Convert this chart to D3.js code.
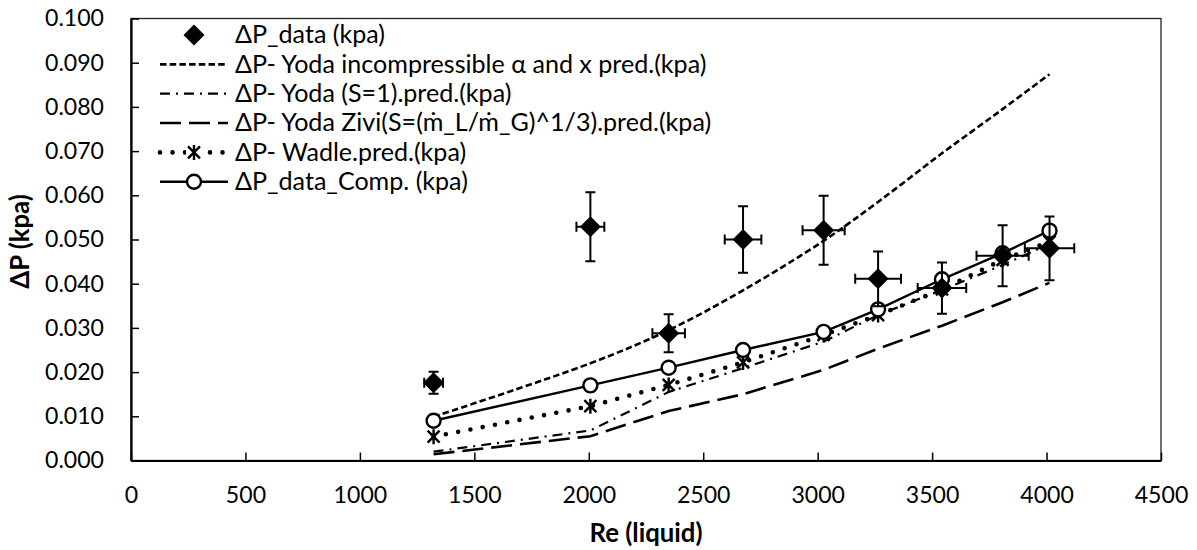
<!DOCTYPE html>
<html><head><meta charset="utf-8">
<script src="https://cdn.jsdelivr.net/npm/d3@7"></script>
<style>
body{margin:0;background:#fff}
text{font-family:Lato,'Open Sans',sans-serif;fill:#000}
</style>
</head><body>
<svg id="chart" width="1197" height="550"></svg>
<script>
// ---------- data ----------
const re          = [1322, 2007, 2349, 2674, 3026, 3264, 3543, 3808, 4013];
const dpData      = [0.0176, 0.0529, 0.0288, 0.0500, 0.0521, 0.0411, 0.0390, 0.0463, 0.0480];
const dpErr       = [0.0025, 0.0078, 0.0043, 0.0075, 0.0078, 0.0062, 0.0058, 0.0069, 0.0072];
const reErr       = [41, 61, 71, 80, 92, 100, 106, 114, 108];
const yodaIncomp  = [0.0099, 0.0220, 0.0295, 0.0385, 0.0497, 0.0585, 0.0695, 0.0795, 0.0874];
const yodaS1      = [0.0020, 0.0068, 0.0155, 0.0209, 0.0269, 0.0329, 0.0386, 0.0442, 0.0490];
const yodaZivi    = [0.0014, 0.0055, 0.0112, 0.0150, 0.0205, 0.0253, 0.0305, 0.0358, 0.0402];
const wadle       = [0.0054, 0.0123, 0.0171, 0.0222, 0.0284, 0.0329, 0.0387, 0.0454, 0.0495];
const dataComp    = [0.0090, 0.0170, 0.0210, 0.0250, 0.0291, 0.0342, 0.0410, 0.0469, 0.0520];
const xTicks      = [0, 500, 1000, 1500, 2000, 2500, 3000, 3500, 4000, 4500];
const yTicks      = [0, 0.01, 0.02, 0.03, 0.04, 0.05, 0.06, 0.07, 0.08, 0.09, 0.1];
const legendLabels = [
  "ΔP_data (kpa)",
  "ΔP- Yoda incompressible α and x pred.(kpa)",
  "ΔP- Yoda (S=1).pred.(kpa)",
  "ΔP- Yoda Zivi(S=(ṁ_L/ṁ_G)^1/3).pred.(kpa)",
  "ΔP- Wadle.pred.(kpa)",
  "ΔP_data_Comp. (kpa)"
];
const xTitle = "Re (liquid)";
const yTitle = "ΔP (kpa)";

// ---------- layout ----------
const svg = d3.select("#chart");
const L = 131, R = 1161, T = 18.5, B = 460.5;
const x = d3.scaleLinear().domain([0, 4500]).range([L, R]);
const y = d3.scaleLinear().domain([0, 0.1]).range([B, T]);

function fitSize(txt, target, weight) {
  const t = svg.append("text").attr("font-size", 100).attr("font-weight", weight || "normal").text(txt);
  const w = t.node().getComputedTextLength();
  t.remove();
  return 100 * target / w;
}
const tickFs = fitSize("0.100", 59);
const legFs = fitSize("ΔP_data_Comp. (kpa)", 233);
const titleFs = fitSize("Re (liquid)", 113, "bold");

// plot border (top/right)
svg.append("rect").attr("x", L).attr("y", T).attr("width", R - L).attr("height", B - T)
  .attr("fill", "none").attr("stroke", "#222").attr("stroke-width", 1.3);

// axes
const gx = svg.append("g").attr("transform", `translate(0,${B})`)
  .call(d3.axisBottom(x).tickValues(xTicks).tickFormat(d3.format("d"))
        .tickSizeInner(-8).tickSizeOuter(0).tickPadding(42.5 - 0.71 * tickFs));
const gy = svg.append("g").attr("transform", `translate(${L},0)`)
  .call(d3.axisLeft(y).tickValues(yTicks).tickFormat(d3.format(".3f"))
        .tickSizeInner(-8).tickSizeOuter(0).tickPadding(27));
[gx, gy].forEach(g => {
  g.selectAll("text").attr("font-size", tickFs).attr("font-family", "Lato,'Open Sans',sans-serif").attr("fill", "#000");
  g.selectAll(".tick line").attr("stroke", "#000").attr("stroke-width", 1.5);
  g.select(".domain").attr("stroke", "#000").attr("stroke-width", 2.2);
});

// titles
svg.append("text").attr("x", (L + R) / 2).attr("y", 542).attr("text-anchor", "middle")
  .attr("font-weight", "bold").attr("font-size", titleFs).text(xTitle);
svg.append("text").attr("transform", `translate(29,${(T + B) / 2 + 2}) rotate(-90)`)
  .attr("text-anchor", "middle").attr("font-weight", "bold").attr("font-size", titleFs).text(yTitle);

// ---------- series ----------
const styles = {
  incomp: {dash: "6.5,3.2", w: 2.6, cap: "butt"},
  s1:     {dash: "10,6,2,6", w: 2.2, cap: "butt"},
  zivi:   {dash: "21,8", w: 2.6, cap: "butt"},
  wadle:  {dash: "0,12.5", w: 4.6, cap: "round"},
  comp:   {dash: null, w: 2.4, cap: "butt"}
};
function drawLine(vals, st, curve) {
  const line = d3.line().x((d, i) => x(re[i])).y(d => y(d)).curve(curve || d3.curveLinear);
  svg.append("path").datum(vals).attr("d", line).attr("fill", "none")
    .attr("stroke", "#000").attr("stroke-width", st.w).attr("stroke-linecap", st.cap)
    .attr("stroke-dasharray", st.dash);
}
drawLine(yodaIncomp, styles.incomp, d3.curveCatmullRom);
drawLine(yodaS1, styles.s1);
drawLine(yodaZivi, styles.zivi);
drawLine(wadle, styles.wadle);
drawLine(dataComp, styles.comp);

const starPath = "M-6,-6L6,6M-6,6L6,-6M0,-7.5L0,7.5";
function star(g, cx, cy) {
  g.append("path").attr("d", starPath).attr("transform", `translate(${cx},${cy})`)
    .attr("stroke", "#000").attr("stroke-width", 2.4).attr("fill", "none");
}
function circ(g, cx, cy) {
  g.append("circle").attr("cx", cx).attr("cy", cy).attr("r", 7)
    .attr("fill", "#fff").attr("stroke", "#000").attr("stroke-width", 2.4);
}
const diamondPath = "M0,-10.5L10.5,0L0,10.5L-10.5,0Z";
function diamond(g, cx, cy) {
  g.append("path").attr("d", diamondPath).attr("transform", `translate(${cx},${cy})`).attr("fill", "#000");
}

const gm = svg.append("g");
wadle.forEach((v, i) => star(gm, x(re[i]), y(v)));
dataComp.forEach((v, i) => circ(gm, x(re[i]), y(v)));

// data points with error bars
const ge = svg.append("g").attr("stroke", "#000").attr("stroke-width", 2).attr("fill", "none");
dpData.forEach((v, i) => {
  const cx = x(re[i]), cy = y(v);
  const y0 = y(v - dpErr[i]), y1 = y(v + dpErr[i]);
  const x0 = x(re[i] - reErr[i]), x1 = x(re[i] + reErr[i]);
  ge.append("path").attr("d",
    `M${cx},${y0}L${cx},${y1}M${cx - 5},${y0}L${cx + 5},${y0}M${cx - 5},${y1}L${cx + 5},${y1}` +
    `M${x0},${cy}L${x1},${cy}M${x0},${cy - 5}L${x0},${cy + 5}M${x1},${cy - 5}L${x1},${cy + 5}`);
});
const gd = svg.append("g");
dpData.forEach((v, i) => diamond(gd, x(re[i]), y(v)));

// ---------- legend ----------
const lg = svg.append("g");
const lx0 = 160, lx1 = 228, ltx = 235, ly0 = 35, ldy = 29.35;
const legendStyles = [null, styles.incomp, styles.s1, styles.zivi, styles.wadle, styles.comp];
legendLabels.forEach((lab, i) => {
  const cy = ly0 + i * ldy;
  const st = legendStyles[i];
  if (st) {
    lg.append("line").attr("x1", lx0).attr("x2", lx1).attr("y1", cy).attr("y2", cy)
      .attr("stroke", "#000").attr("stroke-width", st.w).attr("stroke-linecap", st.cap)
      .attr("stroke-dasharray", st.dash);
  }
  const mx = (lx0 + lx1) / 2;
  if (i === 0) diamond(lg, mx, cy);
  if (i === 4) { lg.append("rect").attr("x", mx - 8).attr("y", cy - 8).attr("width", 16).attr("height", 16).attr("fill", "#fff"); star(lg, mx, cy); }
  if (i === 5) circ(lg, mx, cy);
  lg.append("text").attr("x", ltx).attr("y", cy + 8.3).attr("font-size", legFs).text(lab);
});
</script>
</body></html>
